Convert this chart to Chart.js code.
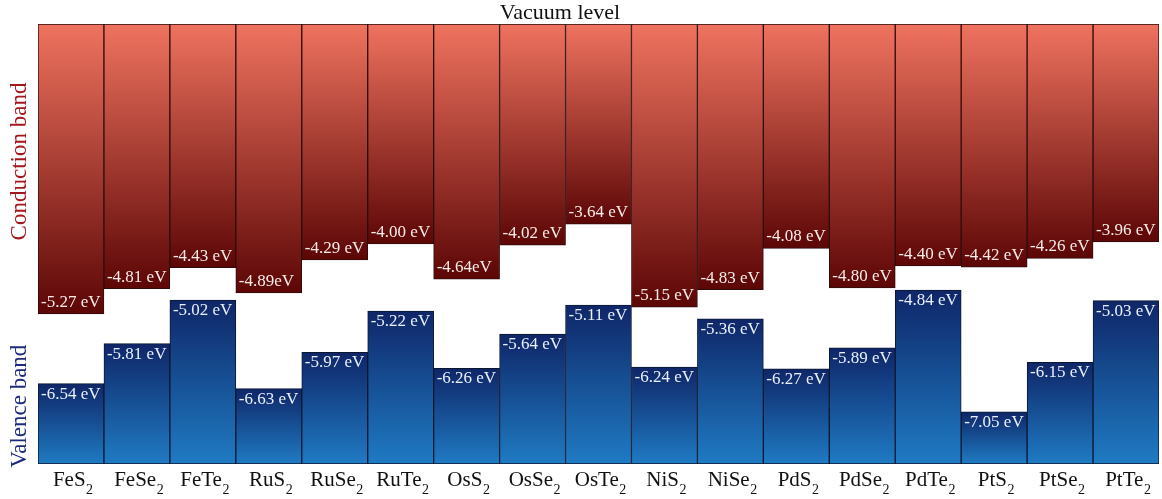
<!DOCTYPE html>
<html>
<head>
<meta charset="utf-8">
<title>Band edges of transition-metal dichalcogenides</title>
<script src="https://cdn.jsdelivr.net/npm/chart.js@4/dist/chart.umd.min.js"></script>
<style>
  html, body { margin: 0; padding: 0; background: #ffffff; }
  #wrap { width: 1162px; height: 499px; position: relative; }
</style>
</head>
<body>
<div id="wrap"><canvas id="bands"></canvas></div>
<script>
// Compounds, written with the trailing digit as a subscript when drawn
const compounds = ['FeS2', 'FeSe2', 'FeTe2', 'RuS2', 'RuSe2', 'RuTe2', 'OsS2', 'OsSe2', 'OsTe2',
                   'NiS2', 'NiSe2', 'PdS2', 'PdSe2', 'PdTe2', 'PtS2', 'PtSe2', 'PtTe2'];

// Conduction-band minimum (eV, relative to vacuum)
const conductionEdge = [-5.27, -4.81, -4.43, -4.89, -4.29, -4.00, -4.64, -4.02, -3.64,
                        -5.15, -4.83, -4.08, -4.80, -4.40, -4.42, -4.26, -3.96];

// Valence-band maximum (eV, relative to vacuum)
const valenceEdge = [-6.54, -5.81, -5.02, -6.63, -5.97, -5.22, -6.26, -5.64, -5.11,
                     -6.24, -5.36, -6.27, -5.89, -4.84, -7.05, -6.15, -5.03];

// Conduction labels printed without a space before the unit
const tightConductionLabels = ['RuS2', 'OsS2'];

const vacuumLevel = 0;
const energyFloor = -8;

const SERIF = '"Liberation Serif", "DejaVu Serif", serif';

function energyLabel(v, tight) {
  return v.toFixed(2) + (tight ? '' : ' ') + 'eV';
}

// Vertical gradient spanning each individual bar
function barGradient(top, bottom) {
  return (c) => {
    const chart = c.chart;
    if (!chart.chartArea || c.type !== 'data' || !c.raw) return bottom;
    const y = chart.scales.y;
    const yTop = y.getPixelForValue(Math.max(c.raw[0], c.raw[1]));
    const yBot = y.getPixelForValue(Math.min(c.raw[0], c.raw[1]));
    const g = chart.ctx.createLinearGradient(0, yTop, 0, yBot);
    g.addColorStop(0, top);
    g.addColorStop(1, bottom);
    return g;
  };
}

const bandAnnotations = {
  id: 'bandAnnotations',
  afterDatasetsDraw(chart) {
    const { ctx, chartArea, scales: { x, y } } = chart;
    const cbMeta = chart.getDatasetMeta(0);
    const vbMeta = chart.getDatasetMeta(1);
    ctx.save();

    // value labels inside the bars
    ctx.font = '17px ' + SERIF;
    ctx.textAlign = 'left';
    ctx.textBaseline = 'alphabetic';
    cbMeta.data.forEach((bar, i) => {
      const left = bar.x - bar.width / 2;
      const yb = y.getPixelForValue(conductionEdge[i]);
      ctx.fillStyle = '#f5ece8';
      ctx.fillText(energyLabel(conductionEdge[i], tightConductionLabels.includes(compounds[i])), left + 3, yb - 7);
    });
    vbMeta.data.forEach((bar, i) => {
      const left = bar.x - bar.width / 2;
      const yt = y.getPixelForValue(valenceEdge[i]);
      ctx.fillStyle = '#eaf0fa';
      ctx.fillText(energyLabel(valenceEdge[i], false), left + 3, yt + 15);
    });

    // category labels with subscripts
    ctx.fillStyle = '#111111';
    compounds.forEach((name, i) => {
      const m = name.match(/^(.*?)(\d+)$/);
      const main = m ? m[1] : name;
      const sub = m ? m[2] : '';
      ctx.font = '21px ' + SERIF;
      const wMain = ctx.measureText(main).width;
      ctx.font = '14px ' + SERIF;
      const wSub = ctx.measureText(sub).width;
      const gap = 0.5;
      const cx = x.getPixelForValue(i);
      const start = cx - (wMain + gap + wSub) / 2 + 2;
      ctx.font = '21px ' + SERIF;
      ctx.fillText(main, start, chartArea.bottom + 22);
      ctx.font = '14px ' + SERIF;
      ctx.fillText(sub, start + wMain + gap, chartArea.bottom + 30);
    });

    // top caption
    ctx.font = '22px ' + SERIF;
    ctx.textAlign = 'center';
    ctx.fillStyle = '#111111';
    ctx.fillText('Vacuum level', 560, 19);

    // band captions along the left edge
    const sideCaption = (text, value, color) => {
      ctx.save();
      ctx.translate(20, y.getPixelForValue(value));
      ctx.rotate(-Math.PI / 2);
      ctx.font = '23px ' + SERIF;
      ctx.textAlign = 'center';
      ctx.textBaseline = 'middle';
      ctx.fillStyle = color;
      ctx.fillText(text, 0, 0);
      ctx.restore();
    };
    sideCaption('Conduction band', -2.5, '#a3161c');
    sideCaption('Valence band', -6.95, '#1e2a7c');

    ctx.restore();
  }
};

new Chart(document.getElementById('bands'), {
  type: 'bar',
  data: {
    labels: compounds,
    datasets: [
      {
        label: 'Conduction band',
        data: conductionEdge.map(v => [v, vacuumLevel]),
        backgroundColor: barGradient('#ef735f', '#5c0606'),
        borderColor: '#2e0c0c',
        borderWidth: 1,
        borderSkipped: false
      },
      {
        label: 'Valence band',
        data: valenceEdge.map(v => [energyFloor, v]),
        backgroundColor: barGradient('#0f2668', '#1f7bc3'),
        borderColor: '#0b1730',
        borderWidth: 1,
        borderSkipped: false
      }
    ]
  },
  options: {
    responsive: true,
    maintainAspectRatio: false,
    devicePixelRatio: 1,
    animation: false,
    layout: { padding: { left: 38, right: 3, top: 24, bottom: 35 } },
    datasets: {
      bar: { grouped: false, categoryPercentage: 1, barPercentage: 1 }
    },
    scales: {
      x: { display: false },
      y: { display: false, min: energyFloor, max: vacuumLevel }
    },
    plugins: {
      legend: { display: false },
      tooltip: { enabled: false },
      title: { display: false }
    }
  },
  plugins: [bandAnnotations]
});
</script>
</body>
</html>
